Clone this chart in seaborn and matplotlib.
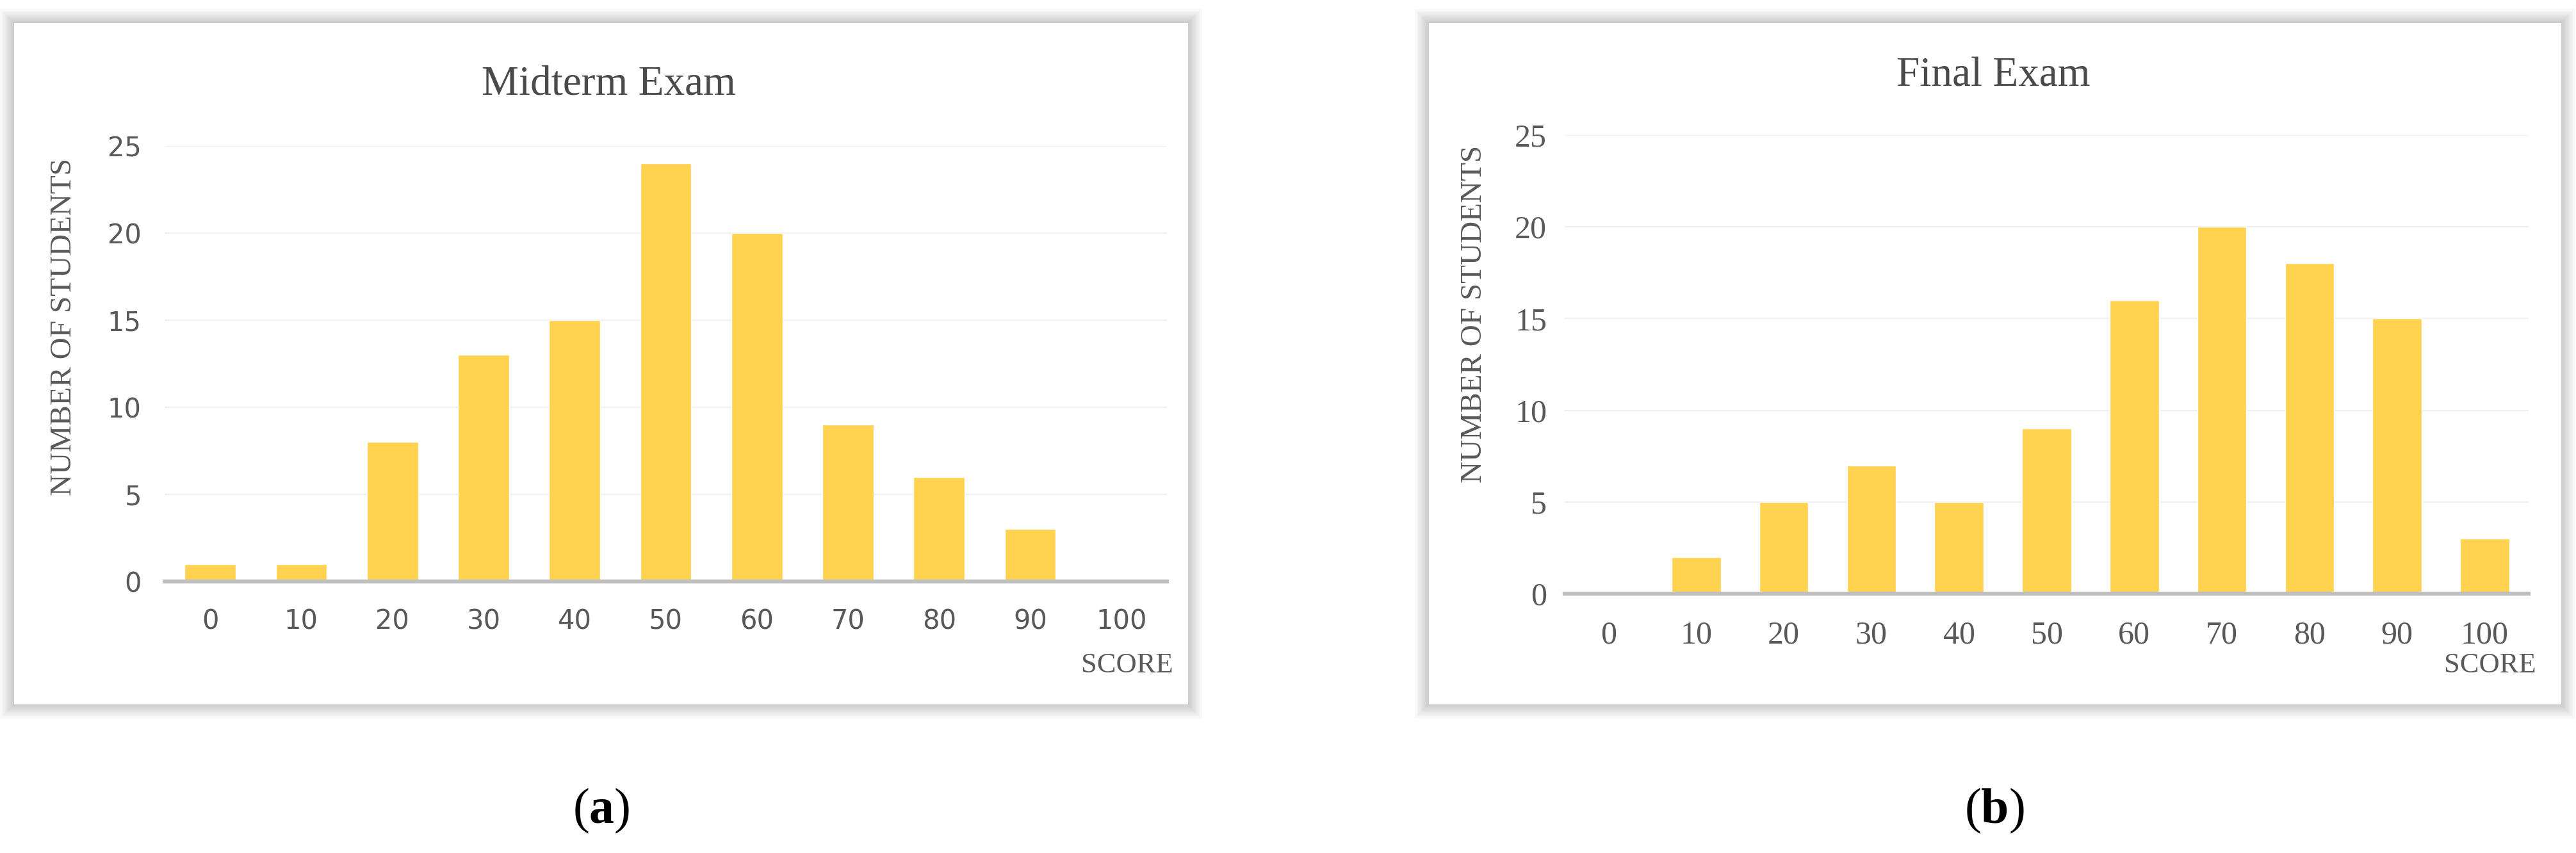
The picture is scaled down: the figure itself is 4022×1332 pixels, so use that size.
import pandas as pd
import matplotlib.pyplot as plt
from matplotlib.patches import Rectangle
import seaborn as sns

# values
scores = ["0", "10", "20", "30", "40", "50", "60", "70", "80", "90", "100"]
midterm_counts = [1, 1, 8, 13, 15, 24, 20, 9, 6, 3, 0]
final_counts = [0, 2, 5, 7, 5, 9, 16, 20, 18, 15, 3]
y_ticks = [0, 5, 10, 15, 20, 25]

W, H = 4023, 1332
BAR = "#FFD34F"
TXT = "#595959"

sns.set_theme(style="white")
plt.rcParams["font.family"] = ["DejaVu Sans"]
plt.rcParams["mathtext.fontset"] = "custom"
plt.rcParams["mathtext.bf"] = "Liberation Serif:bold"
plt.rcParams["mathtext.rm"] = "Liberation Serif"

fig = plt.figure(figsize=(W / 100, H / 100), dpi=100)


def px_axes(x0, y0, x1, y1):
    return fig.add_axes([x0 / W, 1 - y1 / H, (x1 - x0) / W, (y1 - y0) / H])


def ftext(x, y, s, **kw):
    return fig.text(x / W, 1 - y / H, s, ha="center", va="center", **kw)


def panel(x0, y0, x1, y1):
    # soft grey shadow around white chart area
    for i in range(10, 0, -1):
        g = 0.78 + 0.022 * i
        fig.patches.append(Rectangle(((x0 - i * 2.4) / W, 1 - (y1 + i * 2.4) / H),
                                     (x1 - x0 + i * 4.8) / W, (y1 - y0 + i * 4.8) / H,
                                     transform=fig.transFigure, color=(g, g, g),
                                     zorder=-10, lw=0))
    fig.patches.append(Rectangle((x0 / W, 1 - y1 / H), (x1 - x0) / W, (y1 - y0) / H,
                                 transform=fig.transFigure, color="white", zorder=-9, lw=0))


def draw(ax, counts, tick_font, tick_size, ypad, label_xy):
    df = pd.DataFrame({"Score": scores, "Students": counts})
    sns.barplot(data=df, x="Score", y="Students", color=BAR, saturation=1,
                width=0.56, ax=ax, zorder=3)
    ax.set_ylim(0, 25)
    ax.set_xlim(-0.5, 10.5)
    ax.set_yticks(y_ticks)
    ax.set_facecolor("none")
    ax.grid(axis="y", color="#EFEFEF", lw=1.6, zorder=0)
    for s in ["top", "right", "left"]:
        ax.spines[s].set_visible(False)
    ax.spines["bottom"].set_color("#BFBFBF")
    ax.spines["bottom"].set_linewidth(4.5)
    ax.spines["bottom"].set_zorder(4)
    ax.tick_params(length=0, colors=TXT, labelsize=tick_size)
    ax.tick_params(axis="x", pad=30)
    ax.tick_params(axis="y", pad=ypad)
    for lab in ax.get_xticklabels() + ax.get_yticklabels():
        lab.set_family(tick_font)
    ax.set_xlabel("")
    ax.set_ylabel("NUMBER OF STUDENTS", family="Liberation Serif", fontsize=34, color=TXT)
    ax.yaxis.set_label_coords(*label_xy)


panel(22, 36, 1855, 1100)
panel(2231, 36, 3999, 1100)

ax1 = px_axes(257, 228, 1822, 908)
draw(ax1, midterm_counts, "DejaVu Sans", 30, 26, (-0.087, 0.585))

ax2 = px_axes(2443, 211, 3948, 927)
draw(ax2, final_counts, "Liberation Serif", 36, 20, (-0.080, 0.61))

ftext(950, 132, "Midterm Exam", family="Liberation Serif", fontsize=47, color="#4A4A4A")
ftext(3112, 119, "Final Exam", family="Liberation Serif", fontsize=47, color="#4A4A4A")

ftext(1760, 1039, "SCORE", family="Liberation Serif", fontsize=32, color=TXT)
ftext(3888, 1039, "SCORE", family="Liberation Serif", fontsize=32, color=TXT)

ftext(939, 1266, r"($\mathbf{a}$)", family="Liberation Serif", fontsize=56, color="black")
ftext(3114, 1266, r"($\mathbf{b}$)", family="Liberation Serif", fontsize=56, color="black")

fig.savefig("out.png", dpi=100, facecolor="white")
